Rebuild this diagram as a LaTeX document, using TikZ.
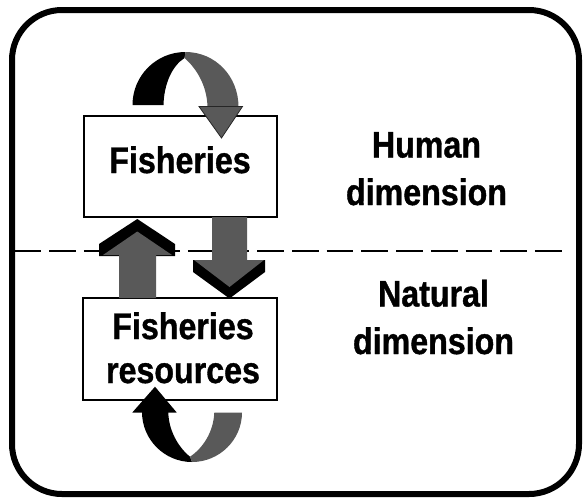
\documentclass[tikz,border=0pt]{standalone}
\usepackage{fontspec}
\newfontfamily\labelfont{Liberation Sans}[FakeStretch=0.87, FakeBold=1]
\tikzset{
  frame/.style={line width=6pt, rounded corners=50pt},
  divider/.style={line width=2.5pt, dash pattern=on 26.7pt off 8pt},
  box/.style={draw, line width=1.4pt, fill=white, inner sep=0pt},
  lbl/.style={font=\labelfont\bfseries\fontsize{37}{44}\selectfont, align=center, inner sep=0pt, anchor=base},
  sidelbl/.style={lbl, font=\labelfont\bfseries\fontsize{37}{47.5}\selectfont},
  shade/.style={fill=black!65},
  dark/.style={fill=black},
}
\begin{document}
\begin{tikzpicture}[x=1pt, y=-1pt]
\useasboundingbox (0,0) rectangle (583,499);

% outer frame and the dashed border between the two dimensions
\draw[frame] (12,10) rectangle (579,494);
\draw[divider] (14.4,251) coordinate (dl) -- (563,251) coordinate (dr);

% the two boxes
\node[box, minimum width=193pt, minimum height=101pt] (fishbox) at (180.5,166.5) {};
\node[box, minimum width=194pt, minimum height=102pt] (resbox) at (180,349) {};

% labels (the base anchor of a two-line label sits on its last line)
\node[lbl] (fishtext) at (180,173) {Fisheries};
\node[lbl] (restext) at (183,383) {Fisheries\\resources};

\node[sidelbl] (human) at (426.5,205) {Human\\dimension};
\node[sidelbl] (natural) at (433.5,354) {Natural\\dimension};

% up arrow: resources -> fisheries
\fill[dark] (99,256) -- (99,244) -- (137.3,219) -- (175,244) -- (175,256) -- cycle;
\fill[shade] (119,298) -- (119,255) -- (103,255) -- (137.3,231.5) -- (172,255)
  -- (156,255) -- (156,298) -- cycle;

% down arrow: fisheries -> resources
\fill[dark] (193,260) -- (193,272) -- (229.5,298.5) -- (265,272) -- (265,260) -- cycle;
\fill[shade] (212,217) -- (212,260) -- (194,260) -- (229.5,287) -- (264,260)
  -- (247,260) -- (247,217) -- cycle;

% loop over the fisheries box
\fill[dark] (132.5,105) .. controls (132.5,75.7) and (156.2,52) .. (185.5,52)
  -- (184.5,58) .. controls (172,66) and (164,84) .. (163.5,105) -- cycle;
\fill[shade] (185.5,52) .. controls (214.8,52) and (238.5,75.7) .. (238.5,107)
  -- (207.5,107) .. controls (207,85) and (196,68) .. (184.5,58) -- cycle;
\filldraw[shade, draw=black!85, line width=0.8pt]
  (199,106.5) -- (242.5,106.5) -- (221.5,138) -- cycle;

% loop under the resources box
\fill[dark] (142,412) .. controls (142,439.6) and (164.4,462) .. (192,462)
  -- (190,456.7) .. controls (178,447) and (168.5,430) .. (168.3,412) -- cycle;
\fill[shade] (192,462) .. controls (219.6,462) and (242,439.6) .. (242,412.5)
  -- (214.3,412.5) .. controls (213.5,432) and (203,448) .. (190,456.7) -- cycle;
\fill[dark] (132.3,412.5) -- (176.7,412.5) -- (155,386.7) -- cycle;
\end{tikzpicture}
\end{document}
